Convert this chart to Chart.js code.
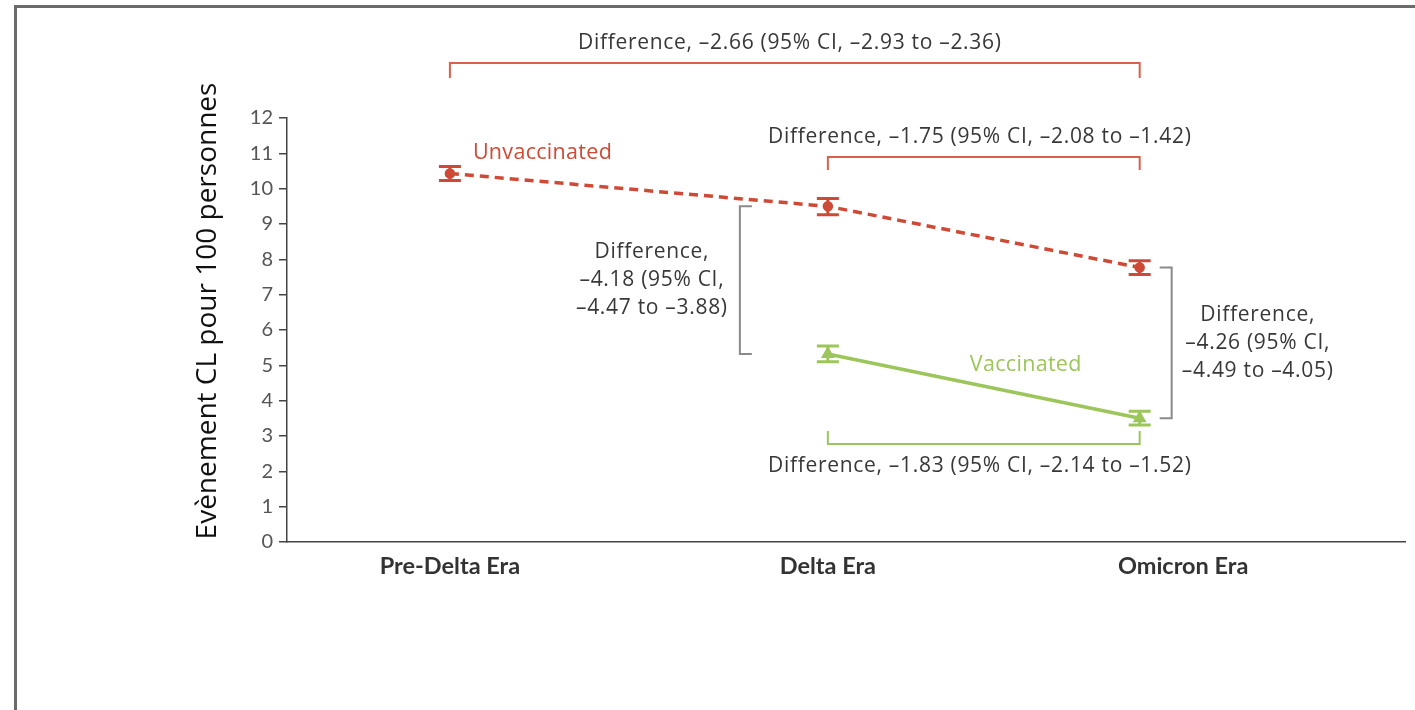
<!DOCTYPE html>
<html>
<head>
<meta charset="utf-8">
<script src="https://cdn.jsdelivr.net/npm/chart.js@4.4.0/dist/chart.umd.min.js"></script>
<style>
    body { margin: 0; background: #fff; overflow: hidden; }
    #frame {
        position: absolute; left: 14px; top: 5px; width: 1420px; height: 720px;
        border-left: 3px solid #6b6b6b; border-top: 3px solid #6b6b6b;
    }
    #wrap { position: absolute; left: 0; top: 0; width: 1415px; height: 710px; }
</style>
</head>
<body>
<div id="frame"></div>
<div id="wrap"><canvas id="myChart" width="1415" height="710"></canvas></div>
<script>
// Chart values
const eras = ['Pre-Delta Era', 'Delta Era', 'Omicron Era'];
const unvaccinated = [10.43, 9.50, 7.77];
const unvaccLow = [10.23, 9.26, 7.57];
const unvaccHigh = [10.63, 9.72, 7.96];
const vaccinated = [null, 5.32, 3.50];
const vaccLow = [null, 5.10, 3.31];
const vaccHigh = [null, 5.55, 3.70];
const yTicks = [0, 1, 2, 3, 4, 5, 6, 7, 8, 9, 10, 11, 12];
const yTitle = 'Evènement CL pour 100 personnes';

const diffTexts = {
    preOmicron: 'Difference, \u20132.66 (95% CI, \u20132.93 to \u20132.36)',
    deltaOmicronUnvacc: 'Difference, \u20131.75 (95% CI, \u20132.08 to \u20131.42)',
    deltaOmicronVacc: 'Difference, \u20131.83 (95% CI, \u20132.14 to \u20131.52)',
    deltaEra: ['Difference,', '\u20134.18 (95% CI,', '\u20134.47 to \u20133.88)'],
    omicronEra: ['Difference,', '\u20134.26 (95% CI,', '\u20134.49 to \u20134.05)']
};

// where the eras sit on the (unevenly spaced) x axis, and where their labels go
const eraPos = [0, 1, 1.825];
const labelPos = [0, 1, 1.94];

const RED = '#cf4a36';
const RED_BRACKET = '#d9604a';
const GREEN = '#9cc65c';
const GRAY = '#8a8a8a';
const TEXT = '#383838';
const FONT = 'Lato, "Open Sans", sans-serif';
const NOTE_FONT = '"Open Sans", sans-serif';

function toPoints(values) {
    const pts = [];
    values.forEach((v, i) => { if (v !== null) pts.push({ x: eraPos[i], y: v }); });
    return pts;
}

// error bars + brackets + labels + y title
const annotations = {
    id: 'annotations',
    afterDatasetsDraw(chart) {
        const ctx = chart.ctx;
        const xs = chart.scales.x, ys = chart.scales.y;
        const px = i => xs.getPixelForValue(eraPos[i]);
        const py = v => ys.getPixelForValue(v);

        ctx.save();
        ctx.lineCap = 'butt';

        function errorBar(i, lo, hi, color) {
            const x = px(i), cap = 11;
            ctx.strokeStyle = color;
            ctx.lineWidth = 3;
            ctx.beginPath();
            ctx.moveTo(x, py(lo)); ctx.lineTo(x, py(hi));
            ctx.moveTo(x - cap, py(lo)); ctx.lineTo(x + cap, py(lo));
            ctx.moveTo(x - cap, py(hi)); ctx.lineTo(x + cap, py(hi));
            ctx.stroke();
        }
        unvaccinated.forEach((v, i) => { if (v !== null) errorBar(i, unvaccLow[i], unvaccHigh[i], RED); });
        vaccinated.forEach((v, i) => { if (v !== null) errorBar(i, vaccLow[i], vaccHigh[i], GREEN); });

        function hBracket(x1, x2, y, tick, color) {
            ctx.strokeStyle = color;
            ctx.lineWidth = 2;
            ctx.beginPath();
            ctx.moveTo(x1, y + tick); ctx.lineTo(x1, y); ctx.lineTo(x2, y); ctx.lineTo(x2, y + tick);
            ctx.stroke();
        }
        function vBracket(x, y1, y2, tick, color) {
            ctx.strokeStyle = color;
            ctx.lineWidth = 2;
            ctx.beginPath();
            ctx.moveTo(x + tick, y1); ctx.lineTo(x, y1); ctx.lineTo(x, y2); ctx.lineTo(x + tick, y2);
            ctx.stroke();
        }

        ctx.font = '21px ' + NOTE_FONT;
        ctx.letterSpacing = '0.7px';
        ctx.fillStyle = TEXT;
        ctx.textAlign = 'center';
        ctx.textBaseline = 'middle';

        // pre-delta vs omicron (unvaccinated)
        hBracket(px(0), px(2), 63, 15, RED_BRACKET);
        ctx.fillText(diffTexts.preOmicron, (px(0) + px(2)) / 2 - 5, 43);

        // delta vs omicron (unvaccinated)
        hBracket(px(1), px(2), 157, 13, RED_BRACKET);
        ctx.fillText(diffTexts.deltaOmicronUnvacc, (px(1) + px(2)) / 2 - 4, 137);

        // delta vs omicron (vaccinated)
        hBracket(px(1), px(2), 444, -13, GREEN);
        ctx.fillText(diffTexts.deltaOmicronVacc, (px(1) + px(2)) / 2 - 4, 466);

        // vaccinated vs unvaccinated, delta era
        const d1 = py(unvaccinated[1]), d2 = py(vaccinated[1]);
        vBracket(px(1) - 88, d1, d2, 12, GRAY);
        diffTexts.deltaEra.forEach((t, k) => ctx.fillText(t, px(1) - 176, (d1 + d2) / 2 - 28 + k * 28));

        // vaccinated vs unvaccinated, omicron era
        const o1 = py(unvaccinated[2]), o2 = py(vaccinated[2]);
        vBracket(px(2) + 32, o1, o2, -12, GRAY);
        diffTexts.omicronEra.forEach((t, k) => ctx.fillText(t, px(2) + 118, (o1 + o2) / 2 - 28 + k * 28));

        // series labels
        ctx.font = '21.5px ' + NOTE_FONT;
        ctx.letterSpacing = '0.3px';
        ctx.textAlign = 'left';
        ctx.fillStyle = RED;
        ctx.fillText('Unvaccinated', px(0) + 23, 153);
        ctx.fillStyle = GREEN;
        ctx.fillText('Vaccinated', px(1) + 142, 365);

        // y axis title (sits a little above the middle of the axis)
        ctx.font = '28px ' + NOTE_FONT;
        ctx.letterSpacing = '0px';
        ctx.fillStyle = '#111';
        ctx.textAlign = 'center';
        ctx.translate(208, 311);
        ctx.rotate(-Math.PI / 2);
        ctx.fillText(yTitle, 0, 0);

        ctx.restore();
    }
};

const ctx = document.getElementById('myChart').getContext('2d');
const myChart = new Chart(ctx, {
    type: 'line',
    data: {
        datasets: [{
            label: 'Unvaccinated',
            data: toPoints(unvaccinated),
            borderColor: RED,
            backgroundColor: RED,
            borderWidth: 3.5,
            borderDash: [9, 6],
            pointStyle: 'circle',
            pointRadius: 3.5,
            pointHoverRadius: 3.5
        }, {
            label: 'Vaccinated',
            data: toPoints(vaccinated),
            borderColor: GREEN,
            backgroundColor: GREEN,
            borderWidth: 3.5,
            pointStyle: 'triangle',
            pointRadius: 4.5,
            pointHoverRadius: 4.5
        }]
    },
    options: {
        responsive: false,
        animation: false,
        layout: { padding: { left: 190, top: 118, right: 10, bottom: 0 } },
        plugins: {
            legend: { display: false },
            tooltip: { enabled: false }
        },
        scales: {
            x: {
                type: 'linear',
                min: -0.431,
                max: 2.527,
                afterBuildTicks: axis => { axis.ticks = labelPos.map(v => ({ value: v })); },
                afterFit: scale => { scale.height = 168; },
                ticks: {
                    callback: (v, i) => eras[i],
                    font: { family: FONT, size: 23.5, weight: 'bold' },
                    color: '#333',
                    padding: 10,
                    maxRotation: 0,
                    autoSkip: false
                },
                grid: { drawOnChartArea: false, drawTicks: false },
                border: { color: '#444', width: 1.5 }
            },
            y: {
                min: 0,
                max: 12,
                afterBuildTicks: axis => { axis.ticks = yTicks.map(v => ({ value: v })); },
                afterFit: scale => { scale.width = 97; },
                ticks: {
                    font: { family: FONT, size: 20 },
                    color: '#555',
                    padding: 6
                },
                grid: { drawOnChartArea: false, tickLength: 8, color: '#444', lineWidth: 1.5 },
                border: { color: '#444', width: 1.5 },
                title: { display: false }
            }
        }
    },
    plugins: [annotations]
});
</script>
</body>
</html>
